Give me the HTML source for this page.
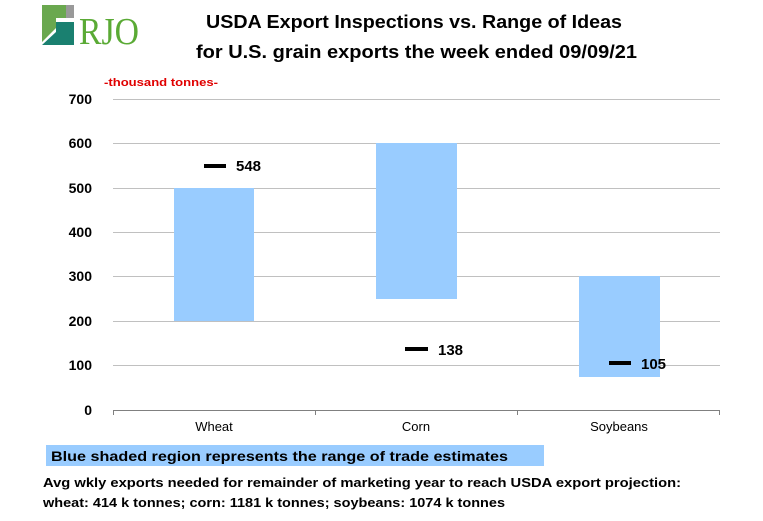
<!DOCTYPE html>
<html><head><style>
body{margin:0;background:#fff;width:763px;height:516px;overflow:hidden;font-family:"Liberation Sans",Arial,sans-serif;}
</style></head><body>
<svg width="763" height="516" xmlns="http://www.w3.org/2000/svg" font-family="Liberation Sans, Arial, sans-serif">
<polygon points="42,5 66,5 66,18 56,18 56,28 48,36 42,42" fill="#6aa84f"/>
<polygon points="66,5 74,5 74,18 66,18" fill="#999"/>
<polygon points="56,22 74,22 74,45 42,45 56,32" fill="#1a8070"/>
<text x="79" y="44" font-family="Liberation Serif, serif" font-size="38" fill="#5aaa35" textLength="60" lengthAdjust="spacingAndGlyphs">RJO</text>
<text x="206" y="28" font-size="18" font-weight="bold" textLength="416" lengthAdjust="spacingAndGlyphs">USDA Export Inspections vs. Range of Ideas</text>
<text x="196" y="58" font-size="18" font-weight="bold" textLength="441" lengthAdjust="spacingAndGlyphs">for U.S. grain exports the week ended 09/09/21</text>
<text x="104" y="86" font-size="11" font-weight="bold" fill="#e00000" textLength="114" lengthAdjust="spacingAndGlyphs">-thousand  tonnes-</text>
<g stroke="#c0c0c0" stroke-width="1">
<line x1="113" y1="99.5" x2="720" y2="99.5"/><line x1="113" y1="143.5" x2="720" y2="143.5"/>
<line x1="113" y1="188.5" x2="720" y2="188.5"/><line x1="113" y1="232.5" x2="720" y2="232.5"/>
<line x1="113" y1="276.5" x2="720" y2="276.5"/><line x1="113" y1="321.5" x2="720" y2="321.5"/>
<line x1="113" y1="365.5" x2="720" y2="365.5"/>
</g>
<line x1="113" y1="410.5" x2="720" y2="410.5" stroke="#808080"/>
<g stroke="#808080"><line x1="113.5" y1="410" x2="113.5" y2="415"/><line x1="315.5" y1="410" x2="315.5" y2="415"/><line x1="517.5" y1="410" x2="517.5" y2="415"/><line x1="719.5" y1="410" x2="719.5" y2="415"/></g>
<g font-size="14" font-weight="bold" text-anchor="end">
<text x="92" y="104">700</text><text x="92" y="148">600</text><text x="92" y="193">500</text><text x="92" y="237">400</text>
<text x="92" y="281">300</text><text x="92" y="326">200</text><text x="92" y="370">100</text><text x="92" y="415">0</text>
</g>
<g fill="#99ccff">
<rect x="174" y="188" width="80" height="133"/>
<rect x="376" y="143" width="81" height="156"/>
<rect x="579" y="276" width="81" height="101"/>
</g>
<g fill="#000">
<rect x="204" y="164" width="22" height="4"/><rect x="405" y="347" width="23" height="4"/><rect x="609" y="361" width="22" height="4"/>
</g>
<g font-size="15" font-weight="bold">
<text x="236" y="171">548</text><text x="438" y="355">138</text><text x="641" y="369">105</text>
</g>
<g font-size="13" text-anchor="middle">
<text x="214" y="431">Wheat</text><text x="416" y="431">Corn</text><text x="619" y="431">Soybeans</text>
</g>
<rect x="46" y="445" width="498" height="21" fill="#99ccff"/>
<text x="51" y="461" font-size="14" font-weight="bold" textLength="457" lengthAdjust="spacingAndGlyphs">Blue shaded region represents the range of trade estimates</text>
<text x="43" y="487" font-size="13" font-weight="bold" textLength="638" lengthAdjust="spacingAndGlyphs">Avg wkly exports needed for remainder of marketing year to reach USDA export projection:</text>
<text x="43" y="507" font-size="13" font-weight="bold" textLength="462" lengthAdjust="spacingAndGlyphs">wheat: 414 k tonnes; corn: 1181 k tonnes; soybeans: 1074 k tonnes</text>
</svg>
</body></html>
